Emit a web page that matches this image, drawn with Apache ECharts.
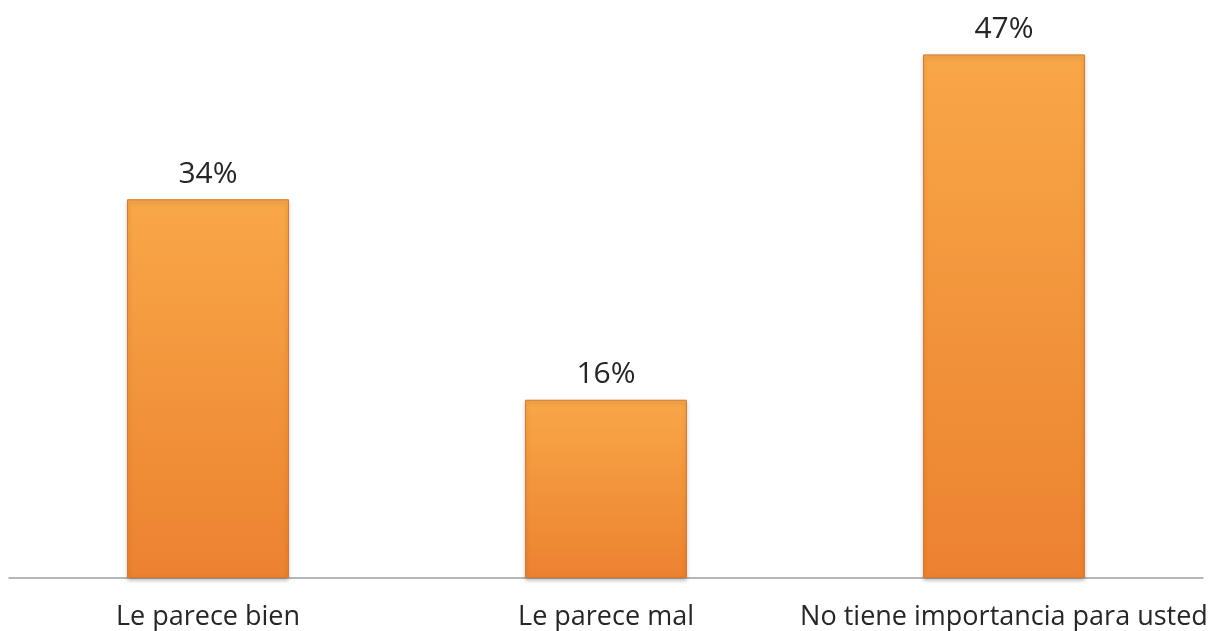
<!DOCTYPE html>
<html>
<head>
<meta charset="utf-8">
<script src="https://cdn.jsdelivr.net/npm/echarts@6/dist/echarts.min.js"></script>
<style>
  html, body { margin: 0; padding: 0; background: #fff; }
  #chart { width: 1224px; height: 631px; }
</style>
</head>
<body>
<div id="chart"></div>
<script>
var categories = ['Le parece bien', 'Le parece mal', 'No tiene importancia para usted'];
var percents = [34, 16, 47];

var chart = echarts.init(document.getElementById('chart'));
chart.setOption({
  animation: false,
  grid: { left: 9, right: 21, top: 21, bottom: 53, outerBoundsMode: 'none' },
  xAxis: {
    type: 'category',
    data: categories,
    axisTick: { show: false },
    axisLine: { lineStyle: { color: '#a0a0a0', width: 1.5 } },
    axisLabel: {
      interval: 0,
      fontFamily: 'Open Sans',
      fontSize: 27,
      color: '#262626',
      margin: 26
    }
  },
  yAxis: {
    type: 'value',
    min: 0,
    max: 50,
    show: false,
    splitLine: { show: false }
  },
  series: [{
    type: 'bar',
    data: percents,
    barWidth: '40.7%',
    itemStyle: {
      color: new echarts.graphic.LinearGradient(0, 0, 0, 1, [
        { offset: 0, color: '#f8a748' },
        { offset: 1, color: '#ec8230' }
      ]),
      borderColor: '#d9792c',
      borderWidth: 1,
      shadowColor: 'rgba(0,0,0,0.25)',
      shadowBlur: 4,
      shadowOffsetY: 2
    },
    label: {
      show: true,
      position: 'top',
      distance: 10,
      formatter: '{c}%',
      fontFamily: 'Open Sans',
      fontSize: 30,
      color: '#262626'
    }
  }]
});
</script>
</body>
</html>
